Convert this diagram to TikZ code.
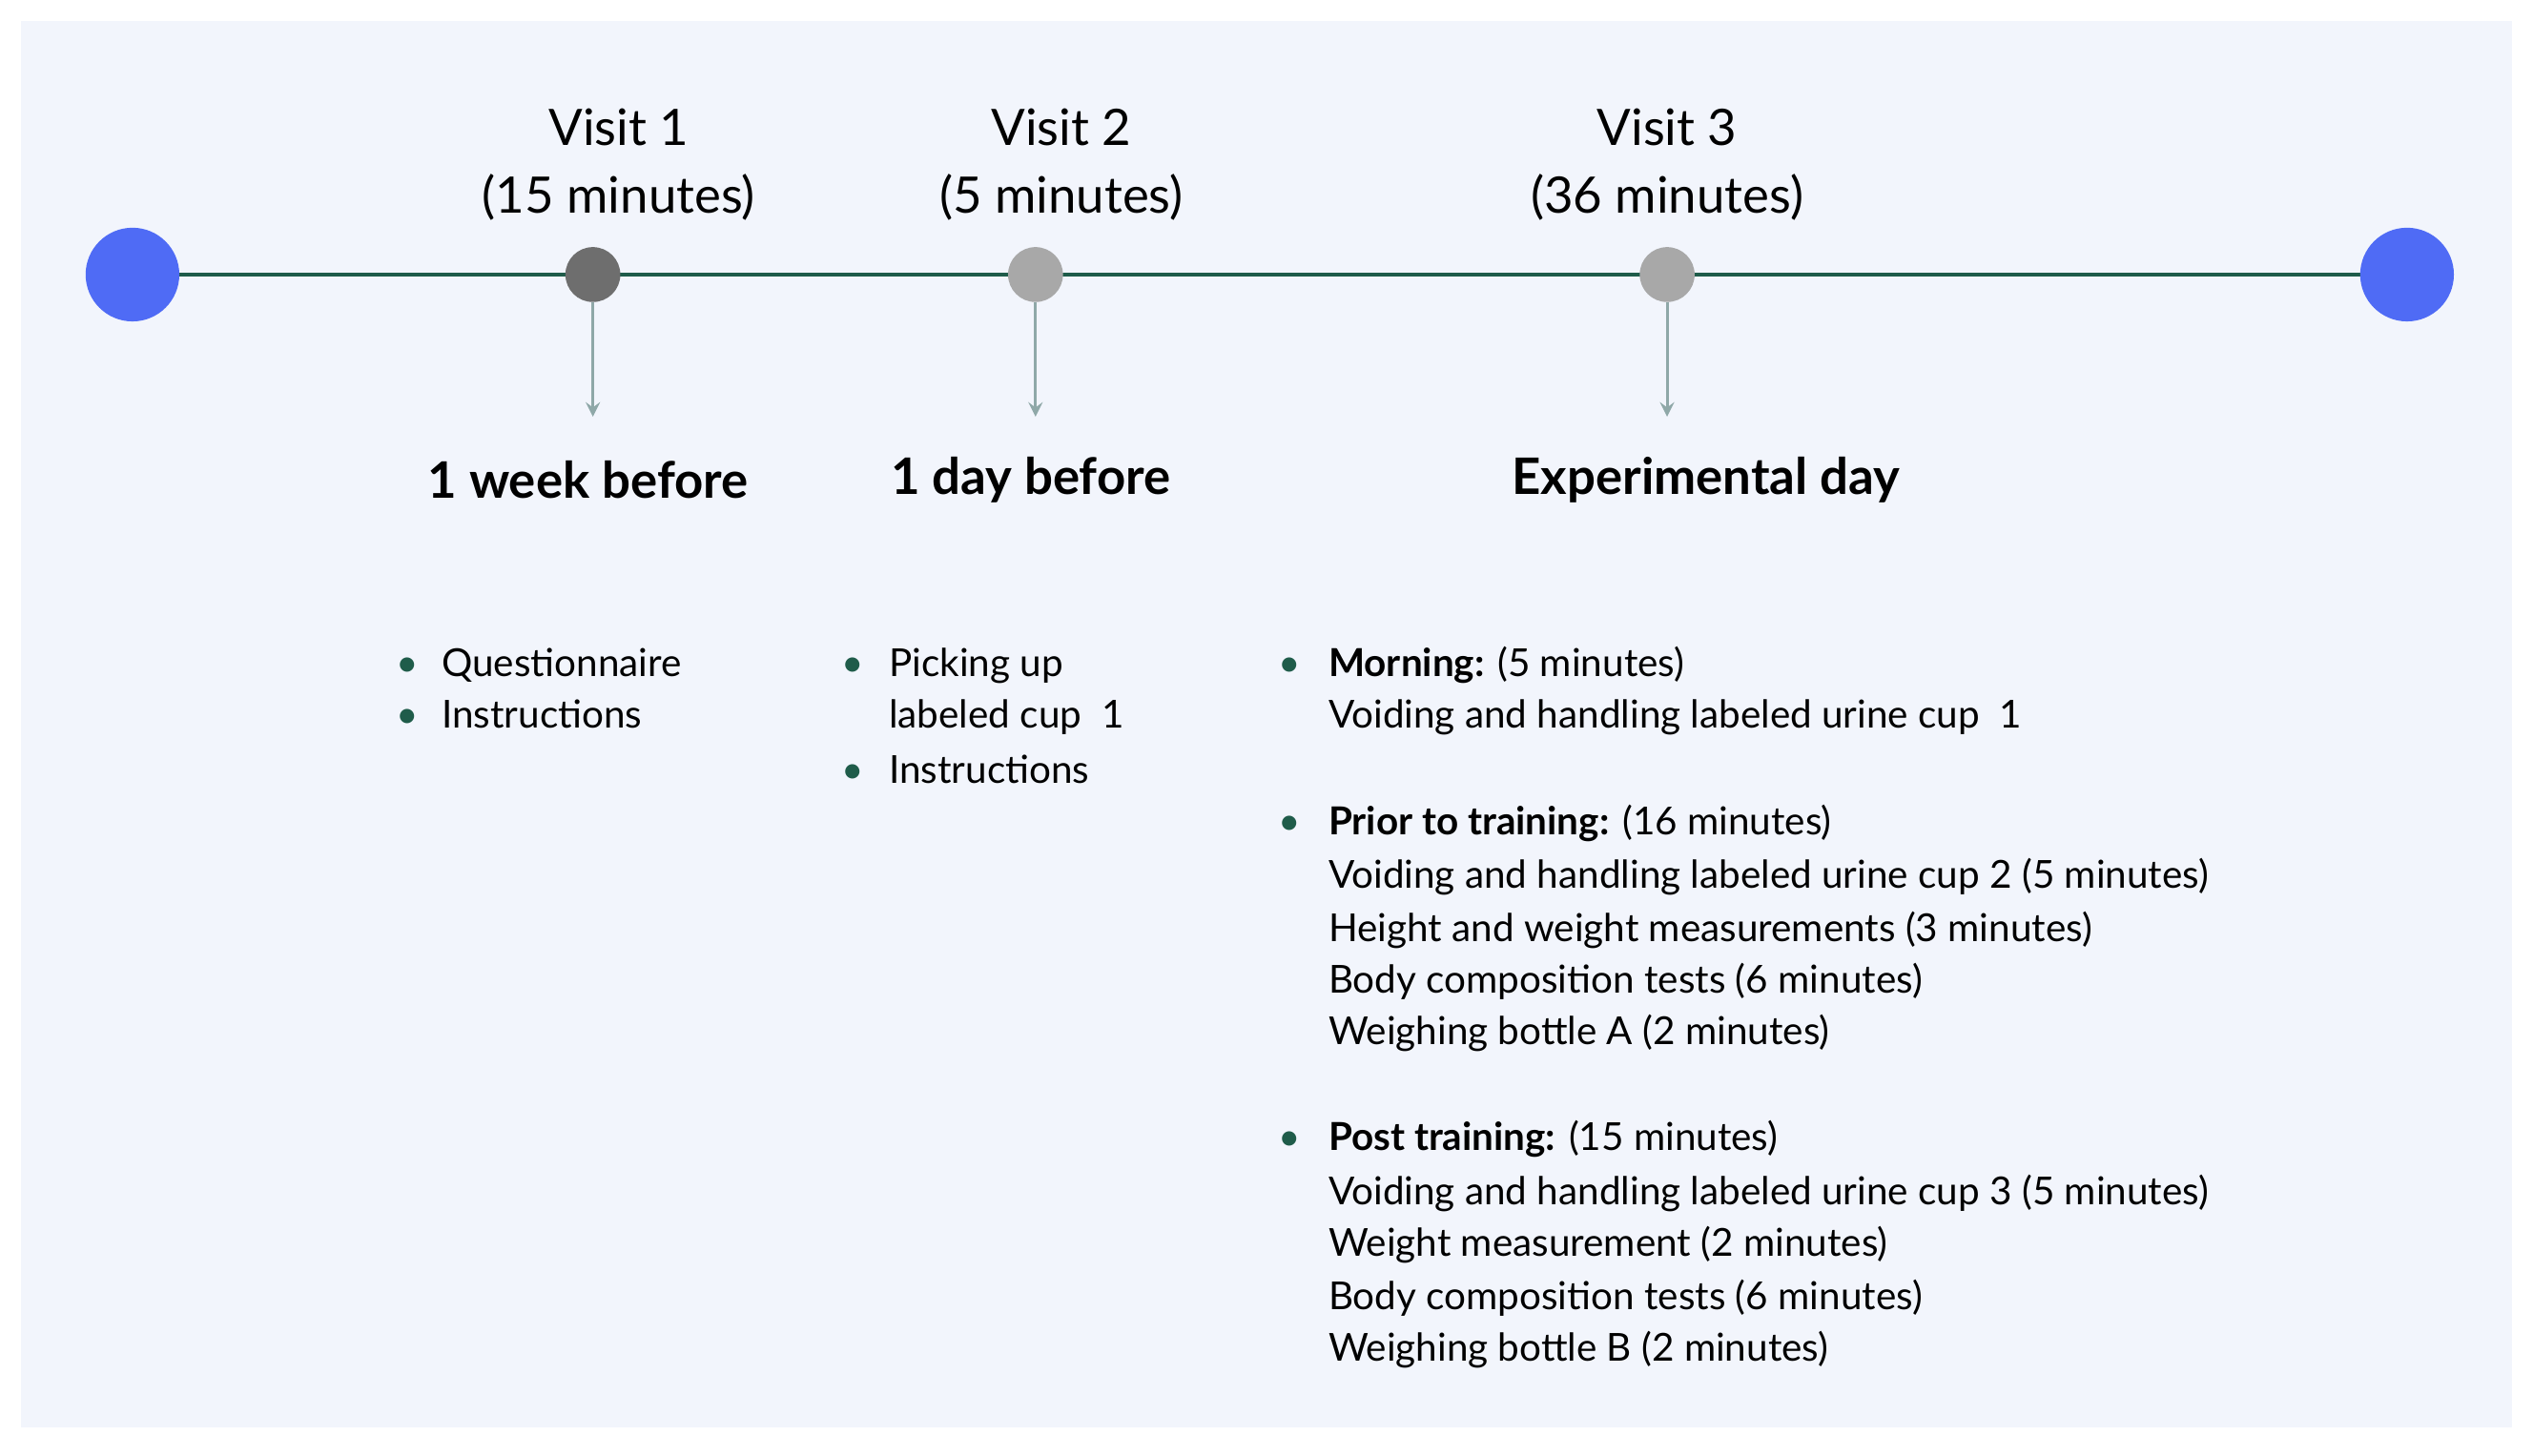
\documentclass[tikz,border=0pt]{standalone}
\usepackage{fontspec}
\setmainfont{Lato}
\definecolor{panel}{HTML}{F2F5FC}
\definecolor{axis}{HTML}{1F5C4A}
\definecolor{endblue}{HTML}{4F6BF5}
\definecolor{darkdot}{HTML}{6E6E6E}
\definecolor{lightdot}{HTML}{A8A8A8}
\definecolor{tick}{HTML}{8FA8A8}
\tikzset{
  visit/.style={align=center, font=\fontsize{15}{20}\selectfont, inner sep=0pt},
  head/.style={font=\fontsize{15}{20}\selectfont\bfseries, inner sep=0pt},
  line/.style={anchor=base west, font=\fontsize{11.5}{15}\selectfont, inner sep=0pt},
  bul/.style={anchor=base, text=axis, font=\fontsize{11.5}{15}\selectfont, inner sep=0pt},
}
\begin{document}
\begin{tikzpicture}[x=0.01694cm, y=-0.01694cm, >=stealth]
	\useasboundingbox (0,0) rectangle (1568,901);
	\fill[white] (0,0) rectangle (1568,901);
	\fill[panel] (13,13) rectangle (1555,884);

	% la ligne du temps
	\coordinate (S) at (82,170);
	\coordinate (E) at (1490,170);
	\draw[axis, line width=1.2pt] (S) -- (E);
	\fill[endblue] (S) circle (29);
	\fill[endblue] (E) circle (29);
	\fill[darkdot] (367,170) circle (17) coordinate (V1);
	\fill[lightdot] (641,170) circle (17) coordinate (V2);
	\fill[lightdot] (1032,170) circle (17) coordinate (V3);
	\coordinate (A1) at (367,258);
	\coordinate (A2) at (641,258);
	\coordinate (A3) at (1032,258);
	\draw[->, tick, line width=0.9pt] (367,187) -- (A1);
	\draw[->, tick, line width=0.9pt] (641,187) -- (A2);
	\draw[->, tick, line width=0.9pt] (1032,187) -- (A3);

	\node[visit] (t1) at (383,102) {Visit 1\\(15 minutes)};
	\node[visit] (t2) at (657,102) {Visit 2\\(5 minutes)};
	\node[visit] (t3) at (1032,102) {Visit 3\\(36 minutes)};

	\node[head] (h1) at (364,297) {1 week before};
	\node[head] (h2) at (638,297) {1 day before};
	\node[head] (h3) at (1056,297) {Experimental day};

	% colonne 1
	\node[bul] (b11) at (252,419) {•};
	\node[line] (l11) at (273,419) {Questionnaire};
	\node[bul] (b12) at (252,451) {•};
	\node[line] (l12) at (273,451) {Instructions};

	% colonne 2
	\node[bul] (b21) at (528,419) {•};
	\node[line] (l21) at (550,419) {Picking up};
	\node[line] (l22) at (550,451) {labeled cup\ \ 1};
	\node[bul] (b22) at (528,485) {•};
	\node[line] (l23) at (550,485) {Instructions};

	% colonne 3
	\node[bul] (b31) at (798,419) {•};
	\node[line] (l31) at (822,419) {\textbf{Morning:} (5 minutes)};
	\node[line] (l32) at (822,451) {Voiding and handling labeled urine cup\ \ 1};
	\node[bul] (b32) at (798,517) {•};
	\node[line] (l33) at (822,517) {\textbf{Prior to training:} (16 minutes)};
	\node[line] (l34) at (822,550) {Voiding and handling labeled urine cup 2 (5 minutes)};
	\node[line] (l35) at (822,583) {Height and weight measurements (3 minutes)};
	\node[line] (l36) at (822,615) {Body composition tests (6 minutes)};
	\node[line] (l37) at (822,647) {Weighing bottle A (2 minutes)};
	\node[bul] (b33) at (798,712) {•};
	\node[line] (l38) at (822,712) {\textbf{Post training:} (15 minutes)};
	\node[line] (l39) at (822,746) {Voiding and handling labeled urine cup 3 (5 minutes)};
	\node[line] (l40) at (822,778) {Weight measurement (2 minutes)};
	\node[line] (l41) at (822,811) {Body composition tests (6 minutes)};
	\node[line] (l42) at (822,843) {Weighing bottle B (2 minutes)};

\end{tikzpicture}
\end{document}
